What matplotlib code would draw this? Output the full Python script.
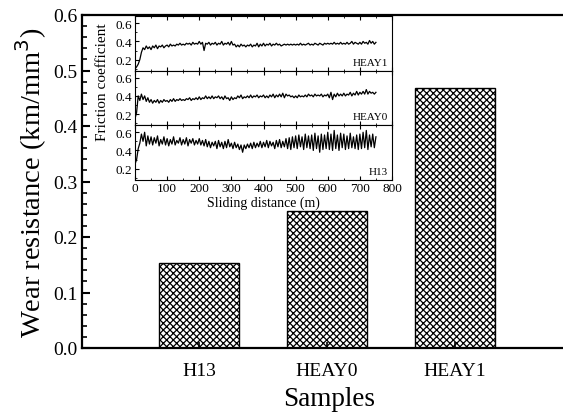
import numpy as np
import matplotlib
matplotlib.use("Agg")
import matplotlib.pyplot as plt
from matplotlib.ticker import MultipleLocator, FormatStrFormatter

plt.rcParams['font.family'] = ['Liberation Serif', 'DejaVu Serif']
plt.rcParams['hatch.linewidth'] = 0.9

# wear resistance bars
samples = ['H13', 'HEAY0', 'HEAY1']
wear_resistance = [0.153, 0.247, 0.468]

# friction coefficient traces (sampled every 5 m, 0..750 m)
distance = np.arange(0, 755, 5)
mu_heay1 = [
    0.10, 0.12, 0.15, 0.20, 0.28, 0.33, 0.31, 0.35, 0.32, 0.34,
    0.31, 0.35, 0.33, 0.36, 0.32, 0.35, 0.34, 0.36, 0.33, 0.35,
    0.36, 0.34, 0.37, 0.35, 0.36, 0.35, 0.37, 0.36, 0.38, 0.36,
    0.37, 0.36, 0.38, 0.37, 0.38, 0.36, 0.39, 0.37, 0.38, 0.37,
    0.40, 0.37, 0.39, 0.30, 0.38, 0.37, 0.39, 0.36, 0.38, 0.37,
    0.39, 0.36, 0.38, 0.37, 0.40, 0.36, 0.38, 0.37, 0.39, 0.36,
    0.40, 0.36, 0.37, 0.34, 0.36, 0.34, 0.37, 0.35, 0.36, 0.34,
    0.36, 0.35, 0.37, 0.34, 0.36, 0.35, 0.38, 0.34, 0.37, 0.35,
    0.38, 0.35, 0.37, 0.36, 0.38, 0.35, 0.37, 0.36, 0.38, 0.36,
    0.37, 0.35, 0.36, 0.37, 0.36, 0.37, 0.36, 0.37, 0.36, 0.37,
    0.36, 0.37, 0.36, 0.38, 0.36, 0.37, 0.36, 0.37, 0.38, 0.36,
    0.37, 0.36, 0.38, 0.37, 0.36, 0.38, 0.37, 0.36, 0.38, 0.37,
    0.38, 0.37, 0.38, 0.37, 0.39, 0.37, 0.38, 0.37, 0.39, 0.37,
    0.38, 0.37, 0.39, 0.37, 0.38, 0.40, 0.37, 0.39, 0.38, 0.37,
    0.39, 0.37, 0.40, 0.38, 0.39, 0.37, 0.41, 0.38, 0.40, 0.37,
    0.39,
]
mu_heay0 = [
    0.15, 0.22, 0.40, 0.35, 0.42, 0.36, 0.40, 0.34, 0.38, 0.33,
    0.36, 0.32, 0.35, 0.33, 0.36, 0.32, 0.35, 0.33, 0.36, 0.34,
    0.35, 0.33, 0.36, 0.34, 0.37, 0.34, 0.36, 0.35, 0.37, 0.35,
    0.36, 0.35, 0.37, 0.36, 0.38, 0.35, 0.37, 0.36, 0.38, 0.36,
    0.39, 0.36, 0.38, 0.37, 0.40, 0.37, 0.39, 0.37, 0.40, 0.37,
    0.39, 0.38, 0.40, 0.37, 0.39, 0.36, 0.40, 0.37, 0.38, 0.35,
    0.39, 0.36, 0.38, 0.37, 0.40, 0.38, 0.41, 0.37, 0.39, 0.38,
    0.40, 0.38, 0.41, 0.38, 0.40, 0.39, 0.41, 0.38, 0.40, 0.39,
    0.41, 0.38, 0.40, 0.38, 0.41, 0.39, 0.42, 0.38, 0.41, 0.39,
    0.42, 0.39, 0.43, 0.38, 0.42, 0.40, 0.41, 0.39, 0.40, 0.38,
    0.40, 0.38, 0.41, 0.39, 0.40, 0.39, 0.41, 0.39, 0.42, 0.40,
    0.41, 0.39, 0.42, 0.40, 0.41, 0.40, 0.42, 0.39, 0.41, 0.40,
    0.42, 0.38, 0.44, 0.36, 0.42, 0.39, 0.43, 0.40, 0.42, 0.40,
    0.43, 0.40, 0.42, 0.41, 0.44, 0.40, 0.43, 0.41, 0.45, 0.41,
    0.44, 0.42, 0.45, 0.42, 0.47, 0.42, 0.45, 0.43, 0.44, 0.42,
    0.44,
]
mu_h13 = [
    0.25, 0.30, 0.42, 0.48, 0.58, 0.50, 0.60, 0.45, 0.56, 0.47,
    0.55, 0.46, 0.54, 0.48, 0.56, 0.45, 0.52, 0.47, 0.55, 0.46,
    0.53, 0.45, 0.52, 0.47, 0.55, 0.46, 0.51, 0.48, 0.54, 0.46,
    0.52, 0.47, 0.54, 0.45, 0.52, 0.48, 0.53, 0.46, 0.51, 0.47,
    0.53, 0.46, 0.51, 0.45, 0.52, 0.44, 0.50, 0.43, 0.49, 0.45,
    0.50, 0.42, 0.51, 0.44, 0.49, 0.42, 0.50, 0.43, 0.52, 0.44,
    0.48, 0.42, 0.49, 0.43, 0.47, 0.41, 0.46, 0.38, 0.46, 0.42,
    0.47, 0.43, 0.48, 0.42, 0.49, 0.43, 0.48, 0.44, 0.50, 0.43,
    0.49, 0.44, 0.51, 0.43, 0.50, 0.45, 0.49, 0.42, 0.51, 0.44,
    0.52, 0.43, 0.50, 0.44, 0.53, 0.42, 0.54, 0.41, 0.55, 0.43,
    0.56, 0.42, 0.57, 0.44, 0.55, 0.41, 0.58, 0.43, 0.56, 0.42,
    0.57, 0.40, 0.59, 0.42, 0.56, 0.38, 0.58, 0.41, 0.57, 0.42,
    0.60, 0.41, 0.58, 0.40, 0.62, 0.42, 0.57, 0.40, 0.59, 0.43,
    0.58, 0.41, 0.56, 0.42, 0.59, 0.43, 0.55, 0.42, 0.57, 0.41,
    0.58, 0.42, 0.60, 0.43, 0.62, 0.41, 0.57, 0.44, 0.58, 0.43,
    0.55,
]
panel_names = ['HEAY1', 'HEAY0', 'H13']

W, H = 563, 414
fig = plt.figure(figsize=(W / 100, H / 100), dpi=100)

# main bar chart (right side runs off the canvas like the original)
ax = fig.add_axes([82 / W, 1 - 349 / H, 495 / W, 333 / H])
x = np.arange(1, len(samples) + 1)
ax.bar(x, wear_resistance, width=0.625, color='white', edgecolor='black',
       hatch='xxxxx', linewidth=1.0)
ax.set_xlim(0.086, 3.953)
ax.set_ylim(0, 0.6)
ax.set_xticks(x)
ax.set_xticklabels(samples, fontsize=14)
ax.yaxis.set_major_locator(MultipleLocator(0.1))
ax.yaxis.set_minor_locator(MultipleLocator(0.02))
ax.yaxis.set_major_formatter(FormatStrFormatter('%.1f'))
ax.tick_params(axis='y', which='major', direction='in', length=6, width=1.5, labelsize=14)
ax.tick_params(axis='y', which='minor', direction='in', length=3.5, width=1.2)
ax.tick_params(axis='x', direction='in', length=4, width=1.2, pad=10)
for s in ax.spines.values():
    s.set_linewidth(1.6)
ax.set_ylabel('Wear resistance (km/mm$^3$)', fontsize=20.5, labelpad=3)
ax.set_xlabel('Samples', fontsize=19.5, labelpad=5)

# inset: three stacked friction panels
series = [mu_heay1, mu_heay0, mu_h13]
ph = 54.5
axes_in = []
for i, (mu, name) in enumerate(zip(series, panel_names)):
    top = 17 + i * ph
    a = fig.add_axes([135 / W, 1 - (top + ph) / H, 257 / W, ph / H])
    a.plot(distance, mu, color='black', lw=0.9)
    a.set_xlim(0, 800)
    a.set_ylim(0.08, 0.68)
    a.set_yticks([0.2, 0.4, 0.6])
    a.yaxis.set_minor_locator(MultipleLocator(0.1))
    a.xaxis.set_major_locator(MultipleLocator(100))
    a.xaxis.set_minor_locator(MultipleLocator(50))
    a.tick_params(which='both', direction='in', top=True, labelsize=9.5, pad=2)
    a.tick_params(which='major', length=3, width=0.8)
    a.tick_params(which='minor', length=1.5, width=0.6)
    if i < 2:
        a.tick_params(labelbottom=False)
    a.text(0.985, 0.07, name, transform=a.transAxes, ha='right', va='bottom', fontsize=8)
    for s in a.spines.values():
        s.set_linewidth(0.8)
    axes_in.append(a)

axes_in[2].set_xlabel('Sliding distance (m)', fontsize=10, labelpad=1)
fig.text(103 / W, 1 - 82 / H, 'Friction coefficient', rotation=90,
         ha='center', va='center', fontsize=11)

fig.savefig('out.png', dpi=100)
